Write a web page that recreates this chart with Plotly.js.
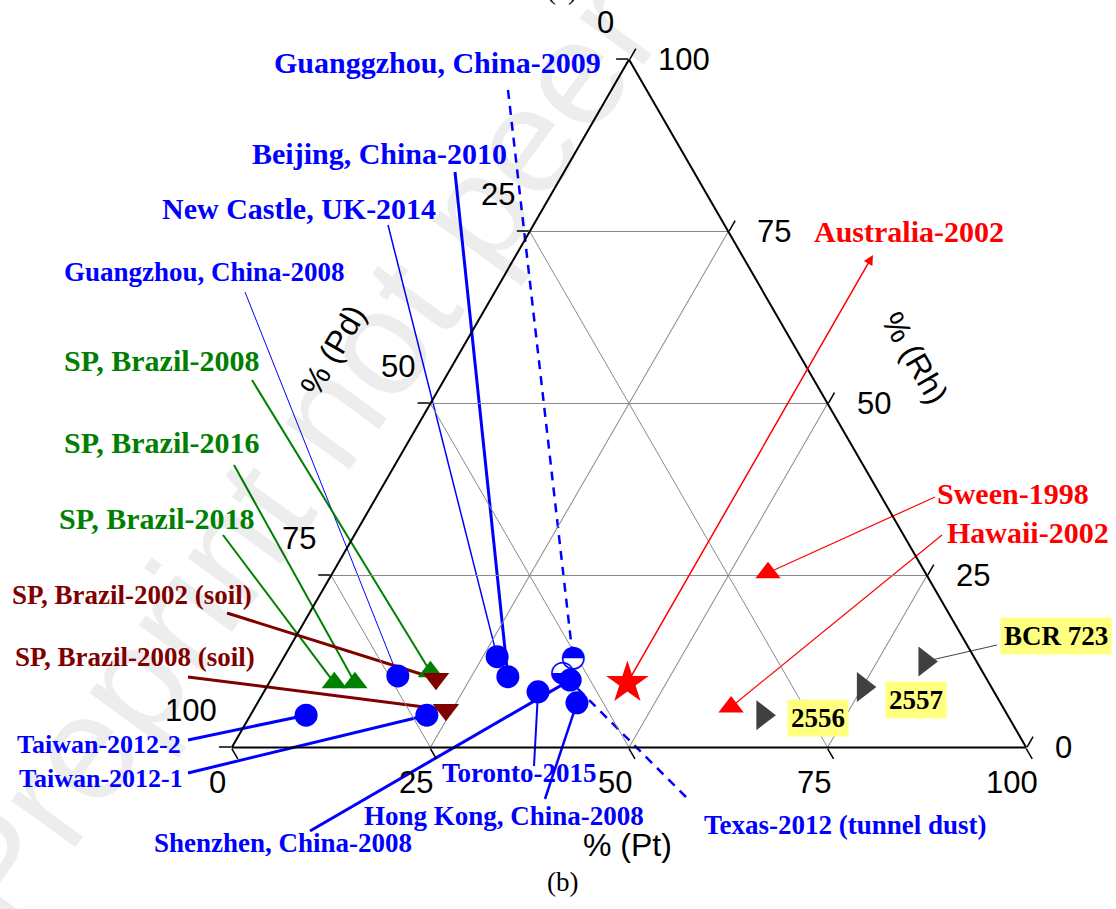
<!DOCTYPE html>
<html>
<head>
<meta charset="utf-8">
<script src="https://cdn.plot.ly/plotly-3.0.1.min.js"></script>
<style>
  html, body { margin: 0; padding: 0; background: #ffffff; }
  #chart { width: 1116px; height: 909px; }
</style>
</head>
<body>
<div id="chart"></div>
<script>
// ---- Compositions (% Pt, % Pd, % Rh) ----
const dustNames = ["Texas-2012 (tunnel dust)", "Guanggzhou, China-2009"];
const dustPt = [36.2, 36.5];
const dustPd = [53.0, 50.6];
const dustRh = [10.8, 12.9];
const dustGlyph = ["\u25D2", "\u25D3"];   // half-filled circles (lower / upper half)

const roadNames = ["Guangzhou, China-2008", "New Castle, UK-2014", "Beijing, China-2010", "Toronto-2015",
                   "Shenzhen, China-2008", "Hong Kong, China-2008", "Taiwan-2012-2", "Taiwan-2012-1"];
const roadPt = [15.7, 26.8, 29.6, 34.5, 37.7, 40.2, 7.0, 22.2];
const roadPd = [73.9, 60.0, 60.1, 57.4, 52.5, 53.3, 88.3, 73.1];
const roadRh = [10.4, 13.2, 10.3, 8.1, 9.8, 6.5, 4.7, 4.7];

const brazilNames = ["SP, Brazil-2008", "SP, Brazil-2016", "SP, Brazil-2018"];
const brazilPt = [19.5, 10.8, 8.2];
const brazilPd = [69.5, 79.8, 82.4];
const brazilRh = [11.0, 9.4, 9.4];

const soilNames = ["SP, Brazil-2002 (soil)", "SP, Brazil-2008 (soil)"];
const soilPt = [20.7, 24.2];
const soilPd = [69.3, 70.3];
const soilRh = [10.0, 5.5];

const starNames = ["Australia-2002"];
const starPt = [45.1];
const starPd = [45.5];
const starRh = [9.4];

const redNames = ["Sween-1998", "Hawaii-2002"];
const redPt = [54.8, 59.9];
const redPd = [19.8, 34.2];
const redRh = [25.4, 5.9];

const refNames = ["2556", "2557", "BCR 723"];
const refPt = [64.5, 75.1, 81.0];
const refPd = [30.8, 16.1, 6.5];
const refRh = [4.7, 8.8, 12.5];

const tickValues = [0, 25, 50, 75, 100];

// ---- Page geometry ----
const W = 1116, H = 909;
const TRI = { x0: 231.8, y0: 747.5, w: 794.4 };
TRI.h = TRI.w * Math.sqrt(3) / 2;

// ternary composition -> pixel position on the overlay axes
function toPx(pt, rh) {
  return { x: TRI.x0 + TRI.w * (pt + rh / 2) / 100, y: TRI.y0 - TRI.h * rh / 100 };
}

const COLORS = { blue: '#0000ff', green: '#008000', maroon: '#800000', red: '#ff0000', gray: '#404040' };

const groups = [
  { names: dustNames, pt: dustPt, pd: dustPd, rh: dustRh, glyph: dustGlyph,
    marker: { symbol: 'circle', size: 21, color: '#ffffff', line: { width: 0 } } },
  { names: roadNames, pt: roadPt, pd: roadPd, rh: roadRh,
    marker: { symbol: 'circle', size: 23, color: COLORS.blue, line: { width: 0 } } },
  { names: brazilNames, pt: brazilPt, pd: brazilPd, rh: brazilRh,
    marker: { symbol: 'triangle-up', size: 22, color: COLORS.green, line: { width: 0 } } },
  { names: soilNames, pt: soilPt, pd: soilPd, rh: soilRh,
    marker: { symbol: 'triangle-down', size: 23, color: COLORS.maroon, line: { width: 0 } } },
  { names: starNames, pt: starPt, pd: starPd, rh: starRh,
    marker: { symbol: 'star', size: 32, color: COLORS.red, line: { width: 0 } } },
  { names: redNames, pt: redPt, pd: redPd, rh: redRh,
    marker: { symbol: 'triangle-up', size: 22, color: COLORS.red, line: { width: 0 } } },
  { names: refNames, pt: refPt, pd: refPd, rh: refRh,
    marker: { symbol: 'triangle-right', size: 26, color: COLORS.gray, line: { width: 0 } } }
];

// lookup of every sample by name
const sample = {};
groups.forEach(g => g.names.forEach((n, i) => { sample[n] = { pt: g.pt[i], pd: g.pd[i], rh: g.rh[i] }; }));

// ---- Label placement (page pixels): text left/centre and leader start ----
const labelLayout = [
  { name: 'Guanggzhou, China-2009', c: 'blue',   fs: 30, tx: 272, ty: 62,  lx: 508, ly: 90,  lw: 2.5, dash: '9px,7px' },
  { name: 'Beijing, China-2010',    c: 'blue',   fs: 30, tx: 250, ty: 153, lx: 455, ly: 172, lw: 3 },
  { name: 'New Castle, UK-2014',    c: 'blue',   fs: 30, tx: 160, ty: 208, lx: 388, ly: 225, lw: 1.5 },
  { name: 'Guangzhou, China-2008',  c: 'blue',   fs: 27, tx: 62,  ty: 272, lx: 245, ly: 292, lw: 1 },
  { name: 'SP, Brazil-2008',        c: 'green',  fs: 30, tx: 62,  ty: 360, lx: 252, ly: 380, lw: 2 },
  { name: 'SP, Brazil-2016',        c: 'green',  fs: 30, tx: 62,  ty: 442, lx: 234, ly: 465, lw: 2 },
  { name: 'SP, Brazil-2018',        c: 'green',  fs: 30, tx: 57,  ty: 518, lx: 223, ly: 535, lw: 2 },
  { name: 'SP, Brazil-2002 (soil)', c: 'maroon', fs: 27, tx: 10,  ty: 595, lx: 227, ly: 613, lw: 3 },
  { name: 'SP, Brazil-2008 (soil)', c: 'maroon', fs: 27, tx: 13,  ty: 657, lx: 188, ly: 677, lw: 3 },
  { name: 'Taiwan-2012-2',          c: 'blue',   fs: 26, tx: 15,  ty: 744, lx: 188, ly: 740, lw: 3 },
  { name: 'Taiwan-2012-1',          c: 'blue',   fs: 26, tx: 17,  ty: 778, lx: 188, ly: 773, lw: 3 },
  { name: 'Toronto-2015',           c: 'blue',   fs: 27, tx: 440, ty: 773, lx: 534, ly: 766, lw: 2 },
  { name: 'Hong Kong, China-2008',  c: 'blue',   fs: 27, tx: 362, ty: 816, lx: 545, ly: 799, lw: 2.5 },
  { name: 'Shenzhen, China-2008',   c: 'blue',   fs: 27, tx: 152, ty: 843, lx: 310, ly: 831, lw: 3 },
  { name: 'Texas-2012 (tunnel dust)', c: 'blue', fs: 27, tx: 702, ty: 825, lx: 686, ly: 797, lw: 2.5, dash: '9px,7px' },
  { name: 'Sween-1998',             c: 'red',    fs: 30, tx: 935, ty: 493, lx: 935, ly: 497, lw: 1.2 },
  { name: 'Hawaii-2002',            c: 'red',    fs: 30, tx: 945, ty: 532, lx: 942, ly: 535, lw: 1.2 },
  { name: 'Australia-2002',         c: 'red',    fs: 30, tx: 812, ty: 231 },
  { name: 'BCR 723',                c: 'gray',   fs: 27, box: true, bx: 1056, by: 636, lx: 997, ly: 645, lw: 1 },
  { name: '2557',                   c: 'gray',   fs: 27, box: true, bx: 916,  by: 700 },
  { name: '2556',                   c: 'gray',   fs: 27, box: true, bx: 818,  by: 718 }
];
const australiaArrowTip = { x: 873, y: 255 };

// ---- Traces ----
const traces = [];

// leader lines on the pixel overlay axes
labelLayout.forEach(L => {
  if (L.lx === undefined) return;
  const s = sample[L.name];
  const p = toPx(s.pt, s.rh);
  traces.push({
    type: 'scatter', mode: 'lines', xaxis: 'x', yaxis: 'y', hoverinfo: 'skip', showlegend: false,
    x: [L.lx, p.x], y: [L.ly, p.y],
    line: { color: COLORS[L.c], width: L.lw, dash: L.dash || 'solid' }
  });
});

// sample markers on the ternary
groups.forEach(g => {
  const t = {
    type: 'scatterternary', subplot: 'ternary2', mode: 'markers', showlegend: false,
    a: g.rh, b: g.pd, c: g.pt, hovertext: g.names, hoverinfo: 'text',
    marker: g.marker, cliponaxis: false
  };
  if (g.glyph) {
    t.mode = 'markers+text';
    t.text = g.glyph;
    t.textposition = 'middle center';
    t.textfont = { family: 'DejaVu Sans', size: 30, color: COLORS.blue };
  }
  traces.push(t);
});

// ---- Ternary axes: dotted minor grid underneath, solid major grid on top ----
const domX = [TRI.x0 / W, (TRI.x0 + TRI.w) / W];
const domY = [(H - TRI.y0 - 2) / H, (H - TRI.y0 + TRI.h + 2) / H];

function minorAxis() {
  return { min: 0, title: { text: '' }, showline: false, showticklabels: false,
           ticks: 'outside', ticklen: 7, tickwidth: 1.2, tickcolor: '#000',
           tickmode: 'linear', tick0: 0, dtick: 12.5,
           showgrid: true, gridcolor: '#a8a8a8', gridwidth: 1, griddash: 'dot' };
}
function majorAxis() {
  return { min: 0, title: { text: '' }, showline: true, linecolor: '#000', linewidth: 2,
           showticklabels: false, ticks: 'outside', ticklen: 12, tickwidth: 1.5, tickcolor: '#000',
           tickmode: 'linear', tick0: 0, dtick: 25,
           showgrid: true, gridcolor: '#8a8a8a', gridwidth: 1 };
}

// ---- Annotations ----
const annotations = [];

// background watermark
annotations.push({
  xref: 'paper', yref: 'paper', x: 485 / W, y: 1 - 195 / H, xanchor: 'center', yanchor: 'middle',
  showarrow: false, text: 'Preprint not peer reviewed', textangle: -54,
  font: { family: 'Liberation Sans', size: 150, color: 'rgba(0,0,0,0.07)' }
});

// tick labels
const tickFont = { family: 'Liberation Sans', size: 31, color: '#000' };
tickValues.forEach(v => {
  const pd = toPx(0, 100 - v);          // left edge: % Pd
  annotations.push({ xref: 'x', yref: 'y', x: pd.x, y: pd.y, xanchor: 'right', yanchor: 'middle',
                     xshift: -13, yshift: 37, showarrow: false, text: String(v), font: tickFont });
  const rh = toPx(100 - v, v);          // right edge: % Rh
  annotations.push({ xref: 'x', yref: 'y', x: rh.x, y: rh.y, xanchor: 'left', yanchor: 'middle',
                     xshift: 27, showarrow: false, text: String(v), font: tickFont });
  const pt = toPx(v, 0);                // bottom edge: % Pt
  annotations.push({ xref: 'x', yref: 'y', x: pt.x, y: pt.y, xanchor: 'center', yanchor: 'middle',
                     xshift: -14, yshift: -35, showarrow: false, text: String(v), font: tickFont });
});

// axis titles
const titleFont = { family: 'Liberation Sans', size: 32, color: '#000' };
annotations.push({ xref: 'x', yref: 'y', x: 333, y: 350, showarrow: false, text: '% (Pd)', textangle: -60, font: titleFont });
annotations.push({ xref: 'x', yref: 'y', x: 915, y: 358, showarrow: false, text: '% (Rh)', textangle: 60, font: titleFont });
annotations.push({ xref: 'x', yref: 'y', x: 627, y: 845, showarrow: false, text: '% (Pt)', font: titleFont });

// panel letters
annotations.push({ xref: 'x', yref: 'y', x: 562, y: 882, showarrow: false, text: '(b)',
                   font: { family: 'Liberation Serif', size: 27, color: '#000' } });
annotations.push({ xref: 'paper', yref: 'paper', x: 562 / W, y: 1 + 10 / H, xanchor: 'center', yanchor: 'middle',
                   showarrow: false, text: '(a)',
                   font: { family: 'Liberation Serif', size: 27, color: '#000' } });

// Australia arrow from the star to its label
{
  const s = sample['Australia-2002'];
  const p = toPx(s.pt, s.rh);
  annotations.push({ xref: 'x', yref: 'y', axref: 'x', ayref: 'y',
                     x: australiaArrowTip.x, y: australiaArrowTip.y, ax: p.x, ay: p.y,
                     text: '', showarrow: true, arrowhead: 2, arrowsize: 1.3, arrowwidth: 1.5,
                     arrowcolor: COLORS.red });
}

// sample labels
labelLayout.forEach(L => {
  if (L.box) {
    annotations.push({ xref: 'x', yref: 'y', x: L.bx, y: L.by, xanchor: 'center', yanchor: 'middle',
                       showarrow: false, text: '<b>' + L.name + '</b>', bgcolor: '#ffff80', borderpad: 3,
                       font: { family: 'Liberation Serif', size: L.fs, color: '#000' } });
  } else {
    annotations.push({ xref: 'x', yref: 'y', x: L.tx, y: L.ty, xanchor: 'left', yanchor: 'middle',
                       showarrow: false, text: '<b>' + L.name + '</b>',
                       font: { family: 'Liberation Serif', size: L.fs, color: COLORS[L.c] } });
  }
});

const layout = {
  width: W, height: H,
  margin: { l: 0, r: 0, t: 0, b: 0, pad: 0 },
  paper_bgcolor: '#ffffff', plot_bgcolor: 'rgba(0,0,0,0)',
  showlegend: false,
  xaxis: { domain: [0, 1], range: [0, W], visible: false, fixedrange: true },
  yaxis: { domain: [0, 1], range: [H, 0], visible: false, fixedrange: true },
  ternary: { sum: 100, domain: { x: domX, y: domY }, bgcolor: 'rgba(0,0,0,0)',
             aaxis: minorAxis(), baxis: minorAxis(), caxis: minorAxis() },
  ternary2: { sum: 100, domain: { x: domX, y: domY }, bgcolor: 'rgba(0,0,0,0)',
              aaxis: majorAxis(), baxis: majorAxis(), caxis: majorAxis() },
  annotations: annotations
};

Plotly.newPlot('chart', traces, layout, { displayModeBar: false, staticPlot: true });
</script>
</body>
</html>
